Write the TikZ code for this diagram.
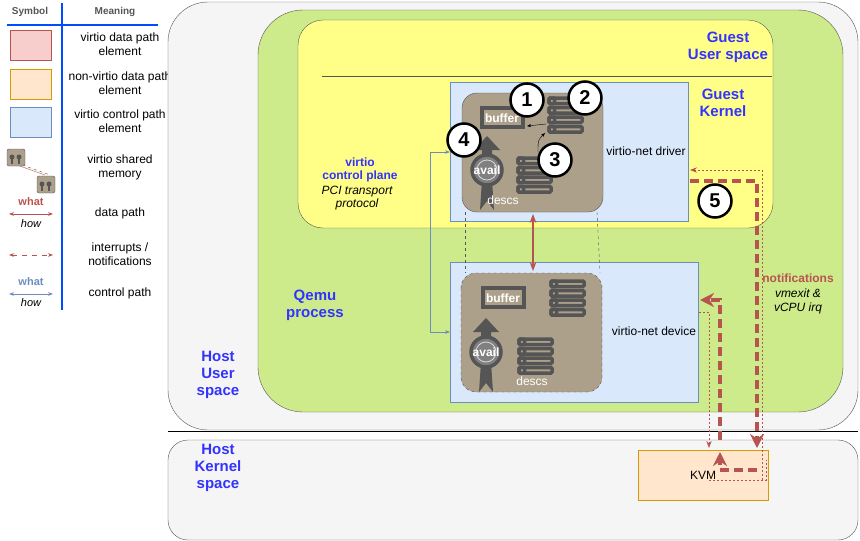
\documentclass[tikz,border=0pt]{standalone}
\usepackage{fontspec}
\setmainfont{Liberation Sans}
\usetikzlibrary{arrows.meta}
\definecolor{rd}{HTML}{B85450}
\definecolor{bl}{HTML}{6C8EBF}
\definecolor{tb}{HTML}{3333FF}
\definecolor{mem}{HTML}{ACA08A}
\definecolor{dk}{HTML}{555555}
\definecolor{gr}{HTML}{CDEB8B}
\definecolor{yl}{HTML}{FFFF88}
\definecolor{lb}{HTML}{DAE8FC}
\definecolor{lr}{HTML}{F8CECC}
\definecolor{lo}{HTML}{FFE6CC}
\definecolor{bo}{HTML}{D79B00}
\definecolor{lg}{HTML}{F5F5F5}
\tikzset{
 t/.style={font=\fontsize{12}{14}\selectfont,align=center},
 ts/.style={font=\fontsize{12}{14}\selectfont,align=center},
 hd/.style={font=\fontsize{15}{17}\selectfont\bfseries,text=tb,align=center},
 num/.style={circle,draw,line width=2.5pt,fill=white,minimum size=33pt,inner sep=0pt,font=\fontsize{20}{20}\selectfont\bfseries},
 thin/.style={rd,dash pattern=on 2pt off 2pt,line width=1pt,-{Stealth[length=7pt]}},
 thick/.style={rd,dash pattern=on 9pt off 5pt,line width=3.5pt,-{Stealth[length=14pt,width=14pt]}},
 memf/.style={fill=mem,draw=dk,rounded corners=15pt},
 lsi/.style={draw=dk,line width=3.5pt,fill=mem,rounded corners=1pt},
}
\newcommand\mylist[2]{%
 \foreach \k in {0,1,2,3}{
  \draw[lsi] (#1,#2+\k*9.5) rectangle ++(33,5.5);
  \draw[lsi] (#1,#2+\k*9.5) rectangle ++(5.5,5.5);}}
\newcommand\myavail[2]{%
 \fill[dk] (#1-5,#2+10) -- (#1-7,#2+40) -- (#1,#2+31) -- (#1+7,#2+40) -- (#1+5,#2+10) -- cycle;
 \fill[dk] (#1-5,#2-10) -- (#1-5,#2-20) -- (#1-13,#2-20) -- (#1,#2-34) -- (#1+13,#2-20) -- (#1+5,#2-20) -- (#1+5,#2-10) -- cycle;
 \draw[dk,line width=3.5pt,fill=gray] (#1,#2) circle (15);
 \draw[white!70!gray,line width=0.8pt] (#1,#2) circle (10);
 \node[font=\fontsize{12}{13}\selectfont\bfseries,text=white] at (#1,#2) {avail};}
\begin{document}
\begin{tikzpicture}[x=1pt,y=-1pt]
\useasboundingbox (0,0) rectangle (860,541);
% legend
\node[font=\fontsize{10}{12}\selectfont\bfseries,text=dk] at (30,12) {Symbol};
\node[font=\fontsize{10}{12}\selectfont\bfseries,text=dk] at (115,12) {Meaning};
\draw[blue!70!cyan,line width=1.2pt] (62,3) -- (62,310);
\draw[blue!70!cyan,line width=1.2pt] (7,25) -- (158,25);
\draw[rd,fill=lr] (10,30) rectangle (51,60);
\draw[bo,fill=lo] (10,69) rectangle (51,99);
\draw[bl,fill=lb] (10,107) rectangle (51,137);
\node[ts] at (120,44) {virtio data path\\element};
\node[ts] at (120,83) {non-virtio data path\\element};
\node[ts] at (120,121) {virtio control path\\element};
\node[ts] at (120,167) {virtio shared\\memory};
\draw[dk,dashed] (17,163) -- (50,175);\draw[rd] (17,165) -- (45,175);
\draw[memf,rounded corners=2pt] (7,149) rectangle (25,166);
\draw[memf,rounded corners=2pt] (37,176) rectangle (55,193);
\foreach \a/\b in {12/157,19/157,42/184,49/184}{\fill[dk] (\a,\b) circle (2.5);\draw[dk,line width=1.2pt] (\a,\b+2) -- (\a,\b+7);}
\node[font=\fontsize{11}{13}\selectfont\bfseries,text=rd] at (31,202) {what};
\draw[rd,line width=1pt,{Stealth[length=5pt]}-{Stealth[length=5pt]}] (9,214) -- (53,214);
\node[font=\fontsize{11}{13}\selectfont\itshape] at (31,224) {how};
\node[ts] at (120,213) {data path};
\draw[rd,line width=1pt,dash pattern=on 5pt off 5pt,{Stealth[length=5pt]}-{Stealth[length=5pt]}] (9,255) -- (53,255);
\node[ts] at (120,254) {interrupts /\\notifications};
\node[font=\fontsize{11}{13}\selectfont\bfseries,text=bl] at (31,282) {what};
\draw[bl,line width=1pt,{Stealth[length=5pt]}-{Stealth[length=5pt]}] (9,294) -- (53,294);
\node[font=\fontsize{11}{13}\selectfont\itshape] at (31,303) {how};
\node[ts] at (120,293) {control path};
% host
\draw[dk,fill=lg,rounded corners=40pt] (168,2) rectangle (858,430);
\draw[dk,fill=lg,rounded corners=20pt] (168,440) rectangle (858,540);
\draw (168,431) -- (858,431);
\draw[dk,fill=gr,rounded corners=45pt] (258,10) rectangle (843,412);
\draw[dk,fill=yl,rounded corners=25pt] (298,20) rectangle (773,228);
\draw[dk] (322,76) -- (772,76);
\node[hd] at (728,47) {Guest\\User space};
\node[hd] at (723,103) {Guest\\Kernel};
\node[hd] at (315,305) {Qemu\\process};
\node[hd] at (218,375) {Host\\User\\space};
\node[hd] at (218,468) {Host\\Kernel\\space};
\node[font=\fontsize{12}{13}\selectfont\bfseries,text=tb,align=center] at (360,170) {virtio\\control plane};
\node[font=\fontsize{12}{13}\selectfont\itshape,align=center] at (357,198) {PCI transport\\protocol};
% blue boxes
\draw[bl,fill=lb] (450,82) rectangle (688,221);
\draw[bl,fill=lb] (450,262) rectangle (698,402);
\node[t] at (646,151) {virtio-net driver};
\node[t] at (654,331) {virtio-net device};
\node[draw=bo,fill=lo,minimum width=130pt,minimum height=50pt,t] (kvm) at (703,475) {KVM};
% shared mem
\draw[dk,dashed] (465,212) -- (465,273);
\draw[dk,dashed] (597,212) -- (600,273);
\draw[memf] (462,93) rectangle (603,212);
\draw[memf,dashed] (461,273) rectangle (602,392);
% driver icons
\draw[dk,line width=3.5pt] (482,108) rectangle (523,127);
\node[font=\fontsize{12}{13}\selectfont\bfseries,text=white] at (502,118) {buffer};
\mylist{549}{98}
\mylist{518}{158}
\myavail{487}{170}
\node[ts,text=white] at (503,200) {descs};
\draw[-{Stealth[length=4pt]}] (546,124) -- (527,126);
\draw[-{Stealth[length=4pt]}] (538,152) .. controls (538,140) .. (545,133);
% device icons
\draw[dk,line width=3.5pt] (483,288) rectangle (524,307);
\node[font=\fontsize{12}{13}\selectfont\bfseries,text=white] at (503,298) {buffer};
\mylist{551}{281}
\mylist{519}{339}
\myavail{486}{352}
\node[ts,text=white] at (532,381) {descs};
% data / control
\draw[rd,line width=1.5pt,{Stealth[length=9pt]}-{Stealth[length=9pt]}] (533,214) -- (533,271);
\draw[bl,line width=1pt,{Stealth[length=5pt]}-{Stealth[length=5pt]}] (450,152) -- (430,152) -- (430,332) -- (450,332);
% notifications
\draw[thin] (762,480) -- (762,170) -- (690,170);
\draw[rd,dash pattern=on 2pt off 2pt,line width=1pt] (709,480) -- (766,480) -- (766,460);
\draw[thin] (699,312) -- (709,312) -- (709,448);
\draw[thick] (690,181) -- (757,181) -- (757,448);
\draw[thick] (757,470) -- (720,470) -- (720,452);
\draw[thick] (720,440) -- (720,300) -- (700,300);
\node[font=\fontsize{12}{13}\selectfont\bfseries,text=rd] at (798,278) {notifications};
\node[font=\fontsize{12}{14}\selectfont\itshape,align=center] at (798,301) {vmexit \&\\vCPU irq};
% numbers
\node[num] (n1) at (527,100) {1};
\node[num] (n2) at (585,98) {2};
\node[num] (n3) at (555,160) {3};
\node[num] (n4) at (464,140) {4};
\node[num] (n5) at (715,201) {5};
\end{tikzpicture}
\end{document}
